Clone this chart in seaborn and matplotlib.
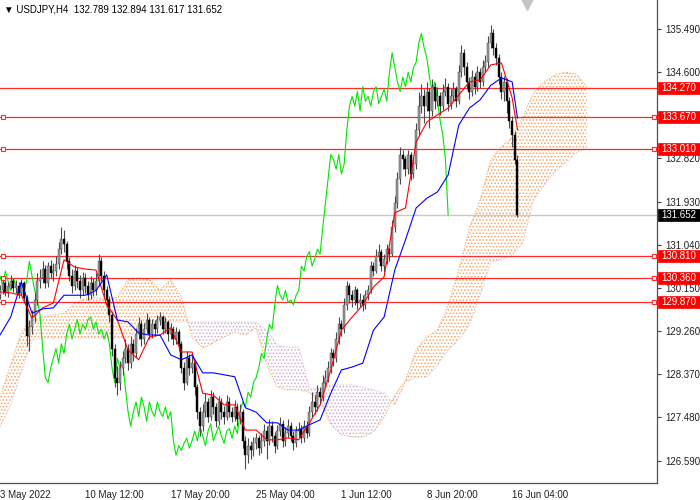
import numpy as np
import pandas as pd
import matplotlib
matplotlib.use("Agg")
import matplotlib.pyplot as plt
from matplotlib.patches import Rectangle
from matplotlib.lines import Line2D
import seaborn as sns

# ---------------- data ----------------
title_text = "USDJPY,H4  132.789 132.894 131.617 131.652"

open_ = [130.00, 130.10, 130.25, 130.05, 130.20, 130.30, 130.15, 130.20, 130.05, 130.25,
         129.95, 129.15, 129.35, 129.55, 129.90, 130.30, 130.35, 130.55, 130.25, 130.60,
         130.45, 130.50, 130.65, 130.95, 131.15, 131.05, 130.70, 130.40, 130.20, 130.50,
         130.30, 130.10, 130.35, 130.20, 130.00, 130.25, 130.10, 130.30, 130.70, 130.40,
         130.10, 129.90, 129.60, 128.90, 128.30, 128.20, 128.50, 128.70, 128.90, 128.60,
         129.00, 128.80, 129.20, 129.40, 129.10, 129.30, 129.50, 129.20, 129.40, 129.30,
         129.50, 129.55, 129.30, 129.45, 129.20, 129.30, 129.10, 129.25, 129.00, 128.50,
         128.20, 128.70, 128.50, 128.60, 128.10, 127.60, 127.30, 127.60, 127.80, 127.50,
         127.90, 127.70, 127.40, 127.80, 127.60, 127.50, 127.80, 127.60, 127.50, 127.70,
         127.45, 127.60, 127.00, 126.70, 126.90, 126.80, 126.95, 127.05, 126.85, 127.00,
         127.20, 127.00, 127.30, 127.10, 126.90, 127.20, 127.35, 127.00, 127.15, 127.30,
         127.10, 126.95, 127.20, 127.25, 127.05, 127.30, 127.15, 127.60, 127.80, 127.70,
         128.00, 127.90, 128.20, 128.30, 128.50, 128.80, 128.70, 129.10, 129.40, 129.30,
         129.80, 130.20, 130.00, 129.90, 130.10, 129.85, 129.90, 129.80, 130.00, 130.10,
         130.60, 130.50, 130.80, 130.90, 130.60, 130.75, 130.95, 130.85, 131.40, 131.90,
         132.40, 132.90, 132.80, 132.60, 132.90, 132.50, 132.70, 133.40, 133.90, 134.10,
         133.90, 134.20, 133.80, 134.30, 134.00, 134.10, 133.90, 134.20, 134.30, 133.95,
         134.10, 134.25, 134.00, 134.60, 135.00, 134.70, 134.40, 134.20, 134.50, 134.30,
         134.60, 134.40, 134.70, 134.80, 135.20, 135.40, 135.10, 134.90, 134.50, 134.20,
         134.40, 134.00, 133.60, 133.30, 132.789]

high = [130.22, 130.38, 130.32, 130.28, 130.42, 130.36, 130.31, 130.27, 130.34, 130.30,
        130.00, 129.50, 129.70, 130.05, 130.45, 130.55, 130.70, 130.62, 130.68, 130.72,
        130.66, 130.80, 131.10, 131.40, 131.35, 131.12, 130.78, 130.55, 130.62, 130.58,
        130.42, 130.48, 130.45, 130.30, 130.40, 130.35, 130.45, 130.85, 130.78, 130.50,
        130.20, 129.98, 129.68, 129.00, 128.55, 128.65, 128.85, 129.10, 129.00, 129.15,
        129.10, 129.32, 129.55, 129.48, 129.42, 129.63, 129.56, 129.52, 129.48, 129.60,
        129.66, 129.60, 129.56, 129.50, 129.42, 129.36, 129.35, 129.30, 129.05, 128.62,
        128.85, 128.78, 128.75, 128.65, 128.18, 127.70, 127.75, 127.98, 127.88, 128.05,
        128.00, 127.78, 127.92, 127.88, 127.72, 127.95, 127.90, 127.70, 127.85, 127.78,
        127.75, 127.65, 127.10, 127.05, 127.00, 127.08, 127.15, 127.12, 127.15, 127.35,
        127.30, 127.45, 127.40, 127.18, 127.32, 127.50, 127.42, 127.28, 127.45, 127.38,
        127.20, 127.30, 127.38, 127.32, 127.42, 127.40, 127.72, 128.00, 127.95, 128.15,
        128.10, 128.35, 128.45, 128.65, 128.92, 128.90, 129.25, 129.55, 129.50, 129.95,
        130.30, 130.25, 130.10, 130.20, 130.15, 130.05, 130.00, 130.10, 130.22, 130.70,
        130.68, 130.95, 131.05, 130.95, 130.85, 131.05, 131.00, 131.55, 132.05, 132.55,
        133.05, 133.00, 132.88, 133.00, 132.95, 132.85, 133.55, 134.20, 134.35, 134.25,
        134.40, 134.28, 134.45, 134.38, 134.30, 134.20, 134.35, 134.48, 134.38, 134.25,
        134.40, 134.32, 134.75, 135.15, 135.08, 134.80, 134.50, 134.65, 134.58, 134.72,
        134.68, 134.85, 134.95, 135.35, 135.58, 135.48, 135.20, 134.98, 134.60, 134.52,
        134.48, 134.08, 133.70, 133.38, 132.894]

low = [129.92, 130.02, 129.98, 129.96, 130.12, 130.06, 130.04, 129.95, 130.00, 129.85,
       128.95, 128.85, 129.20, 129.45, 129.80, 130.15, 130.25, 130.15, 130.18, 130.35,
       130.30, 130.40, 130.55, 130.85, 130.90, 130.55, 130.30, 130.05, 130.10, 130.15,
       129.95, 130.00, 130.05, 129.90, 129.92, 129.98, 130.00, 130.20, 130.30, 129.95,
       129.75, 129.45, 128.75, 128.10, 127.95, 128.05, 128.35, 128.60, 128.45, 128.50,
       128.65, 128.72, 129.10, 128.95, 129.00, 129.22, 129.10, 129.12, 129.15, 129.22,
       129.38, 129.20, 129.22, 129.05, 129.10, 128.98, 129.00, 128.85, 128.40, 128.05,
       128.15, 128.35, 128.40, 127.95, 127.45, 127.10, 127.20, 127.50, 127.38, 127.42,
       127.55, 127.28, 127.32, 127.45, 127.35, 127.42, 127.48, 127.38, 127.40, 127.30,
       127.35, 126.85, 126.42, 126.55, 126.62, 126.68, 126.82, 126.70, 126.75, 126.90,
       126.62, 126.92, 126.98, 126.75, 126.82, 127.10, 126.88, 126.90, 127.05, 127.00,
       126.80, 126.88, 127.08, 126.95, 126.98, 127.05, 127.10, 127.50, 127.55, 127.62,
       127.75, 127.82, 128.10, 128.22, 128.40, 128.55, 128.62, 129.00, 129.15, 129.22,
       129.70, 129.85, 129.75, 129.80, 129.72, 129.75, 129.68, 129.72, 129.90, 130.05,
       130.40, 130.45, 130.70, 130.50, 130.48, 130.65, 130.70, 130.80, 131.30, 131.80,
       132.30, 132.60, 132.45, 132.50, 132.38, 132.42, 132.60, 133.30, 133.75, 133.55,
       133.80, 133.45, 133.70, 133.85, 133.90, 133.72, 133.82, 134.10, 133.80, 133.85,
       134.00, 133.88, 133.95, 134.50, 134.55, 134.25, 134.05, 134.10, 134.15, 134.22,
       134.28, 134.32, 134.60, 134.70, 135.10, 134.95, 134.75, 134.35, 134.05, 134.00,
       133.75, 133.45, 133.05, 132.70, 131.617]

close = [130.10, 130.25, 130.05, 130.20, 130.30, 130.15, 130.20, 130.05, 130.25, 129.95,
         129.15, 129.35, 129.55, 129.90, 130.30, 130.35, 130.55, 130.25, 130.60, 130.45,
         130.50, 130.65, 130.95, 131.15, 131.05, 130.70, 130.40, 130.20, 130.50, 130.30,
         130.10, 130.35, 130.20, 130.00, 130.25, 130.10, 130.30, 130.70, 130.40, 130.10,
         129.90, 129.60, 128.90, 128.30, 128.20, 128.50, 128.70, 128.90, 128.60, 129.00,
         128.80, 129.20, 129.40, 129.10, 129.30, 129.50, 129.20, 129.40, 129.30, 129.50,
         129.55, 129.30, 129.45, 129.20, 129.30, 129.10, 129.25, 129.00, 128.50, 128.20,
         128.70, 128.50, 128.60, 128.10, 127.60, 127.30, 127.60, 127.80, 127.50, 127.90,
         127.70, 127.40, 127.80, 127.60, 127.50, 127.80, 127.60, 127.50, 127.70, 127.45,
         127.60, 127.00, 126.70, 126.90, 126.80, 126.95, 127.05, 126.85, 127.00, 127.20,
         127.00, 127.30, 127.10, 126.90, 127.20, 127.35, 127.00, 127.15, 127.30, 127.10,
         126.95, 127.20, 127.25, 127.05, 127.30, 127.15, 127.60, 127.80, 127.70, 128.00,
         127.90, 128.20, 128.30, 128.50, 128.80, 128.70, 129.10, 129.40, 129.30, 129.80,
         130.20, 130.00, 129.90, 130.10, 129.85, 129.90, 129.80, 130.00, 130.10, 130.60,
         130.50, 130.80, 130.90, 130.60, 130.75, 130.95, 130.85, 131.40, 131.90, 132.40,
         132.90, 132.80, 132.60, 132.90, 132.50, 132.70, 133.40, 133.90, 134.10, 133.90,
         134.20, 133.80, 134.30, 134.00, 134.10, 133.90, 134.20, 134.30, 133.95, 134.10,
         134.25, 134.00, 134.60, 135.00, 134.70, 134.40, 134.20, 134.50, 134.30, 134.60,
         134.40, 134.70, 134.80, 135.20, 135.40, 135.10, 134.90, 134.50, 134.20, 134.40,
         134.00, 133.60, 133.30, 132.789, 131.652]

# Ichimoku lines, read every 4th bar
line_bars = list(range(0, 193, 4)) + [194]
tenkan = [130.07, 130.05, 130.00, 129.53, 129.74, 129.84, 130.73, 130.58, 130.54, 130.52,
          129.80, 129.49, 128.87, 128.67, 129.14, 129.18, 129.33, 128.83, 128.83, 127.98,
          127.94, 127.74, 127.74, 127.22, 127.22, 127.02, 127.02, 127.06, 127.02, 127.37,
          127.74, 128.46, 129.28, 129.55, 129.80, 130.17, 130.38, 131.70, 131.80, 133.16,
          133.57, 133.72, 133.86, 134.13, 134.40, 134.44, 134.75, 134.79, 134.07, 133.41]
kijun = [129.18, 129.55, 130.27, 129.63, 129.72, 129.74, 130.00, 130.00, 130.00, 130.10,
         130.42, 129.49, 129.45, 129.22, 129.18, 129.18, 128.77, 128.67, 128.77, 128.40,
         128.40, 128.36, 128.32, 127.68, 127.59, 127.37, 127.37, 127.22, 127.22, 127.33,
         127.43, 127.98, 128.46, 128.52, 128.60, 129.28, 129.55, 130.52, 131.14, 131.80,
         132.00, 132.13, 132.48, 133.51, 133.86, 134.03, 134.33, 134.48, 134.40, 133.65]
chikou_shift = 26

cloud_bars = list(range(0, 221, 4))
span_a = [127.90, 128.56, 129.24, 129.49, 129.55, 129.60, 129.63, 129.84, 129.94, 129.96,
          129.90, 129.96, 130.32, 130.36, 130.32, 130.11, 130.32, 129.96, 129.14, 128.91,
          129.02, 129.14, 129.24, 129.18, 129.33, 128.56, 128.10, 128.05, 128.05, 128.00,
          127.84, 127.33, 127.12, 127.08, 127.08, 127.18, 127.49, 127.94, 128.25, 128.87,
          129.14, 129.28, 129.80, 130.52, 131.39, 131.96, 132.79, 133.06, 133.26, 133.67,
          134.17, 134.40, 134.54, 134.60, 134.56, 134.30]
span_b = [127.28, 127.74, 128.42, 129.08, 129.12, 129.12, 129.12, 129.12, 129.12, 129.12,
          129.12, 129.12, 129.12, 129.30, 129.45, 129.45, 129.45, 129.45, 129.45, 129.45,
          129.45, 129.45, 129.45, 129.45, 129.45, 129.28, 128.97, 128.93, 128.93, 128.08,
          128.08, 128.15, 128.15, 128.15, 128.10, 128.05, 127.98, 127.74, 128.21, 128.31,
          128.31, 128.56, 128.87, 129.08, 129.39, 130.00, 130.69, 130.73, 130.83, 131.08,
          131.96, 132.27, 132.54, 132.73, 132.93, 133.06]

levels = [134.270, 133.670, 133.010, 130.810, 130.360, 129.870]
level_has_marker = [False, True, True, True, True, True]
last_price = 131.652

ytick_vals = [135.490, 134.600, 133.710, 132.820, 131.930, 131.040,
              130.150, 129.260, 128.370, 127.480, 126.590]
hidden_tick = 133.710   # covered by the 133.670 price box in the reference
xtick_bars = [0, 32, 64, 96, 128, 160, 192]
xtick_labels = ["3 May 2022", "10 May 12:00", "17 May 20:00", "25 May 04:00",
                "1 Jun 12:00", "8 Jun 20:00", "16 Jun 04:00"]

# ---------------- style ----------------
sns.set_style("white")
plt.rcParams["font.family"] = ["Liberation Sans", "DejaVu Sans"]
plt.rcParams["hatch.linewidth"] = 0.7

W, H = 700, 500
fig = plt.figure(figsize=(W / 100, H / 100), dpi=100)
ax = fig.add_axes([0, 1 - 483 / H, 657 / W, 483 / H])

o = np.array(open_); h = np.array(high); l = np.array(low); c = np.array(close)
n = len(c)
idx = np.arange(n)

# cloud
cb = np.array(cloud_bars); A = np.array(span_a); B = np.array(span_b)
ax.fill_between(cb, A, B, where=A >= B, interpolate=True, facecolor="none",
                edgecolor="#F4A460", hatch=".....", linewidth=0, zorder=1)
ax.fill_between(cb, A, B, where=A < B, interpolate=True, facecolor="none",
                edgecolor="#CDB0CD", hatch=".....", linewidth=0, zorder=1)
ax.plot(cb, A, color="#F4A460", lw=0.8, ls=(0, (1, 1.5)), zorder=1)
ax.plot(cb, B, color="#D8BFD8", lw=0.8, ls=(0, (1, 1.5)), zorder=1)

# horizontal levels
ytr = ax.get_yaxis_transform()
for v, mk in zip(levels, level_has_marker):
    ax.axhline(v, color="#ff2a2a", lw=0.9, zorder=2)
    if mk:
        ax.plot([0.004, 0.996], [v, v], ls="none", marker="s", ms=3.2, mfc="white",
                mec="#ff2a2a", mew=0.8, transform=ytr, zorder=6, clip_on=False)
ax.axhline(last_price, color="#c8c8c8", lw=1.0, zorder=2)

# indicator lines
sns.lineplot(x=idx[: n - chikou_shift], y=c[chikou_shift:], color="#00e600", lw=0.8,
             ax=ax, zorder=3, estimator=None, sort=False)
sns.lineplot(x=line_bars, y=tenkan, color="#ff0000", lw=0.8, ax=ax, zorder=5,
             estimator=None, sort=False)
sns.lineplot(x=line_bars, y=kijun, color="#0000ff", lw=0.8, ax=ax, zorder=5,
             estimator=None, sort=False)

# candles
up = c >= o
ax.vlines(idx, l, h, color="#4a4a4a", lw=0.8, zorder=4)
body = np.maximum(np.abs(c - o), 0.02)
bot = np.minimum(o, c)
ax.bar(idx[up], body[up], bottom=bot[up], width=0.75, color="#9c9c9c",
       edgecolor="#3a3a3a", linewidth=0.3, zorder=4)
ax.bar(idx[~up], body[~up], bottom=bot[~up], width=0.75, color="#000000",
       edgecolor="#000000", linewidth=0.3, zorder=4)

# axes limits & ticks
ax.set_xlim(0.22, 246.3)
ax.set_ylim(126.129, 136.088)
ax.yaxis.tick_right()
ax.set_yticks(ytick_vals)
ax.set_yticklabels(["" if v == hidden_tick else f"{v:.3f}" for v in ytick_vals])
ax.set_xticks(xtick_bars)
ax.set_xticklabels(xtick_labels)
for t in ax.get_xticklabels():
    t.set_ha("left")
ax.tick_params(axis="y", which="both", direction="out", length=3, width=0.8,
               colors="#404040", labelsize=7, pad=3, right=True, left=False,
               labelcolor="#202020")
ax.tick_params(axis="x", which="both", direction="out", length=3, width=0.8,
               colors="#404040", labelsize=7, pad=2, labelcolor="#202020")
for s in ["top", "left"]:
    ax.spines[s].set_visible(False)
for s in ["right", "bottom"]:
    ax.spines[s].set_color("#505050")
    ax.spines[s].set_linewidth(0.9)
ax.set_xlabel("")
ax.set_ylabel("")
ax.grid(False)

# right price boxes (fixed width like the terminal)
px_to_price = (136.088 - 126.129) / 483.0
box_h = 12 * px_to_price
box_w = 42 / 657.0


def price_box(v, fc):
    ax.add_patch(Rectangle((1.0015, v - box_h / 2), box_w, box_h, transform=ytr,
                           facecolor=fc, edgecolor=fc, lw=0.5, clip_on=False, zorder=9))
    ax.text(1.006, v, f"{v:.3f}", transform=ytr, ha="left", va="center", fontsize=7,
            color="white", zorder=10, clip_on=False)


for v in levels:
    price_box(v, "#ff0000")
price_box(last_price, "#000000")

# header
fig.text(4 / W, 1 - 9 / H, "\u25bc " + title_text, fontsize=7, color="#000000",
         ha="left", va="center", family=["Liberation Sans", "DejaVu Sans"])
fig.add_artist(Line2D([527 / W], [1 - 4 / H], marker="v", ms=8, color="#c4c4c4",
                      ls="none", transform=fig.transFigure))

fig.savefig("out.png", dpi=100)
